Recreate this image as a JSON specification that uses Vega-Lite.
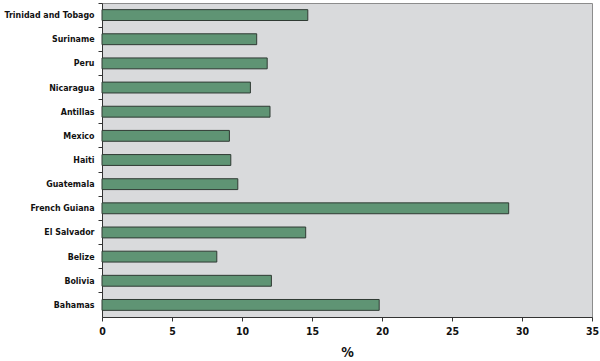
{
  "$schema": "https://vega.github.io/schema/vega-lite/v6.json",
  "autosize": "none",
  "width": 490,
  "height": 314,
  "padding": {"left": 102, "top": 3, "right": 8, "bottom": 44},
  "background": "white",
  "config": {
    "view": {"fill": "#d9dadc", "stroke": "#8c8c8c", "strokeWidth": 1},
    "font": "DejaVu Sans Condensed, Liberation Sans, sans-serif"
  },
  "data": {
    "values": [
      {"country": "Trinidad and Tobago", "value": 14.7},
      {"country": "Suriname", "value": 11.05},
      {"country": "Peru", "value": 11.8},
      {"country": "Nicaragua", "value": 10.6},
      {"country": "Antillas", "value": 12.0},
      {"country": "Mexico", "value": 9.1},
      {"country": "Haiti", "value": 9.2},
      {"country": "Guatemala", "value": 9.7},
      {"country": "French Guiana", "value": 29.05},
      {"country": "El Salvador", "value": 14.55},
      {"country": "Belize", "value": 8.2},
      {"country": "Bolivia", "value": 12.1},
      {"country": "Bahamas", "value": 19.8}
    ]
  },
  "mark": {"type": "bar", "fill": "#5f9474", "stroke": "#2f3a33", "strokeWidth": 1, "height": {"band": 0.45}},
  "encoding": {
    "y": {
      "field": "country",
      "type": "nominal",
      "sort": null,
      "scale": {"paddingInner": 0, "paddingOuter": 0},
      "axis": {
        "title": null,
        "bandPosition": 0,
        "domainColor": "#333333",
        "tickColor": "#333333",
        "tickSize": 4,
        "labelFont": "DejaVu Sans Condensed, Liberation Sans, sans-serif",
        "labelFontWeight": "bold",
        "labelFontSize": 8.8,
        "labelColor": "#111111",
        "labelPadding": 4,
        "grid": false
      }
    },
    "x": {
      "field": "value",
      "type": "quantitative",
      "scale": {"domain": [0, 35], "nice": false},
      "axis": {
        "title": "%",
        "titleFont": "DejaVu Sans Condensed, Liberation Sans, sans-serif",
        "titleFontSize": 14,
        "titleFontWeight": "bold",
        "titleColor": "#111111",
        "titlePadding": 9,
        "values": [0, 5, 10, 15, 20, 25, 30, 35],
        "grid": false,
        "domainColor": "#333333",
        "tickColor": "#333333",
        "tickSize": 4,
        "labelFont": "DejaVu Sans Condensed, Liberation Sans, sans-serif",
        "labelFontWeight": "bold",
        "labelFontSize": 10.5,
        "labelColor": "#111111",
        "labelPadding": 5,
        "labelFlush": false
      }
    }
  }
}
